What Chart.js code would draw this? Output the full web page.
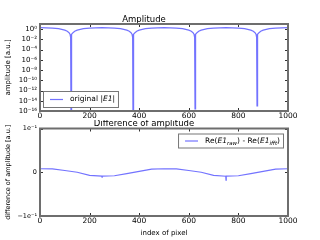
<!DOCTYPE html>
<html lang="en">
<head>
<meta charset="UTF-8">
<title>Amplitude</title>
<script src="https://cdn.jsdelivr.net/npm/chart.js"></script>
<style>
  body { margin: 0; background: #fff; }
  #wrap { position: relative; width: 320px; height: 240px; overflow: hidden; }
  canvas { position: absolute; left: 0; }
</style>
</head>
<body>
<div id="wrap">
  <canvas id="diffChart" width="320" height="120" style="top:120px"></canvas>
  <canvas id="ampChart" width="320" height="124" style="top:0; z-index:2"></canvas>
</div>
<script>
// --- data ---
const pixelIdx = [
  0, 50, 75, 100, 110, 117, 121, 123, 124, 125, 126, 127, 129, 133, 140, 150, 175, 200, 250,
  300, 325, 350, 360, 367, 371, 373, 374, 375, 376, 377, 379, 383, 390, 400, 425, 450, 500,
  550, 575, 600, 610, 617, 621, 623, 624, 625, 626, 627, 629, 633, 640, 650, 675, 700, 750,
  800, 825, 850, 860, 867, 871, 873, 874, 875, 876, 877, 879, 883, 890, 900, 925, 950, 1000
];
const amplitude = [
  2.0, 1.6, 1.2, 0.62, 0.37, 0.2, 0.1, 0.05, 0.025, 1e-18, 0.025, 0.05, 0.1, 0.2, 0.37, 0.62, 1.2, 1.6, 2.0,
  1.6, 1.2, 0.62, 0.37, 0.2, 0.1, 0.05, 0.025, 1e-18, 0.025, 0.05, 0.1, 0.2, 0.37, 0.62, 1.2, 1.6, 2.0,
  1.6, 1.2, 0.62, 0.37, 0.2, 0.1, 0.05, 0.025, 2.5e-16, 0.025, 0.05, 0.1, 0.2, 0.37, 0.62, 1.2, 1.6, 2.0,
  1.6, 1.2, 0.62, 0.37, 0.2, 0.1, 0.05, 0.025, 1e-15, 0.025, 0.05, 0.1, 0.2, 0.37, 0.62, 1.2, 1.6, 2.0
];
const diffIdx = [0, 50, 100, 150, 200, 249, 250, 251, 300, 350, 400, 450, 500,
                 550, 600, 650, 700, 749, 750, 751, 800, 850, 900, 950, 1000];
const difference = [0.008, 0.0075, 0.004, 0.0, -0.007, -0.009, -0.011, -0.009, -0.008, -0.003, 0.002, 0.007, 0.008,
                    0.0075, 0.004, 0.0, -0.007, -0.009, -0.018, -0.009, -0.008, -0.003, 0.002, 0.007, 0.008];

const xTicks = [0, 200, 400, 600, 800, 1000];
const ampTicks = [1e-16, 1e-14, 1e-12, 1e-10, 1e-8, 1e-6, 1e-4, 1e-2, 1];
const ampTickLabels = ['10⁻¹⁶', '10⁻¹⁴', '10⁻¹²', '10⁻¹⁰', '10⁻⁸', '10⁻⁶', '10⁻⁴', '10⁻²', '10⁰'];
const diffTicks = [-0.1, 0, 0.1];
const diffTickLabels = ['−1e⁻¹', '0', '1e⁻¹'];

const FONT = "'DejaVu Sans', sans-serif";
const LINE = '#7373ff';

// frame + inward ticks like matplotlib classic
const frame = {
  id: 'frame',
  afterDatasetsDraw(chart) {
    const { ctx, chartArea: a, scales: { x, y } } = chart;
    ctx.save();
    ctx.strokeStyle = '#333';
    ctx.lineWidth = 1;
    ctx.beginPath();
    x.ticks.forEach(t => {
      const px = Math.round(x.getPixelForValue(t.value)) + 0.5;
      ctx.moveTo(px, a.bottom); ctx.lineTo(px, a.bottom - 3);
      ctx.moveTo(px, a.top); ctx.lineTo(px, a.top + 3);
    });
    y.ticks.forEach(t => {
      const py = Math.round(y.getPixelForValue(t.value)) + 0.5;
      ctx.moveTo(a.left, py); ctx.lineTo(a.left + 3, py);
      ctx.moveTo(a.right, py); ctx.lineTo(a.right - 3, py);
    });
    ctx.stroke();
    ctx.strokeStyle = '#6e6e6e';
    ctx.lineWidth = 2;
    ctx.strokeRect(a.left, a.top, a.right - a.left, a.bottom - a.top);
    ctx.restore();
  }
};

// text in pieces, for italic symbols and subscripts
function runFont(r) {
  return (r.italic ? 'italic ' : '') + (r.sub ? 5.5 : 7.5) + 'px ' + FONT;
}
function runsWidth(ctx, runs) {
  let w = 0;
  runs.forEach(r => { ctx.font = runFont(r); w += ctx.measureText(r.t).width; });
  return w;
}
function drawRuns(ctx, x, y, runs) {
  ctx.textBaseline = 'middle';
  ctx.fillStyle = '#000';
  runs.forEach(r => {
    ctx.font = runFont(r);
    ctx.fillText(r.t, x, r.sub ? y + 2.5 : y);
    x += ctx.measureText(r.t).width;
  });
}
function drawLegend(ctx, left, top, h, runs) {
  const w = 30 + runsWidth(ctx, runs);
  ctx.save();
  ctx.fillStyle = '#fff';
  ctx.fillRect(left, top, w, h);
  ctx.strokeStyle = '#777';
  ctx.lineWidth = 1;
  ctx.strokeRect(left + 0.5, top + 0.5, w, h);
  ctx.strokeStyle = LINE;
  ctx.lineWidth = 1.2;
  ctx.beginPath();
  ctx.moveTo(left + 7, top + h / 2 + 0.5);
  ctx.lineTo(left + 20, top + h / 2 + 0.5);
  ctx.stroke();
  drawRuns(ctx, left + 27, top + h / 2 + 0.5, runs);
  ctx.restore();
}

const ampLegend = {
  id: 'ampLegend',
  afterDraw(chart) {
    const a = chart.chartArea;
    drawLegend(chart.ctx, a.left + 3, a.bottom - 20, 16, [
      { t: 'original |' }, { t: 'E1', italic: true }, { t: '|' }
    ]);
  }
};
const diffLegend = {
  id: 'diffLegend',
  afterDraw(chart) {
    const a = chart.chartArea, ctx = chart.ctx;
    const runs = [
      { t: 'Re(' }, { t: 'E1', italic: true }, { t: 'raw', italic: true, sub: true }, { t: ') - Re(' },
      { t: 'E1', italic: true }, { t: 'ifft', italic: true, sub: true }, { t: ')' }
    ];
    const w = 30 + runsWidth(ctx, runs);
    drawLegend(ctx, a.right - 5 - w, a.top + 5, 14, runs);
  }
};

function xScale(extra) {
  return Object.assign({
    type: 'linear', min: 0, max: 1000,
    afterBuildTicks: s => { s.ticks = xTicks.map(v => ({ value: v })); },
    grid: { display: false, drawTicks: false },
    border: { display: false },
    ticks: { autoSkip: false, maxRotation: 0, padding: 1, color: '#000',
             font: { family: FONT, size: 7.5, lineHeight: 1.1 }, callback: v => String(v) }
  }, extra);
}

new Chart(document.getElementById('ampChart'), {
  type: 'line',
  data: {
    datasets: [{
      label: 'original |E1|',
      data: pixelIdx.map((x, i) => ({ x: x, y: amplitude[i] })),
      borderColor: LINE, borderWidth: 1.2, pointRadius: 0, fill: false, tension: 0
    }]
  },
  options: {
    responsive: false, animation: false, devicePixelRatio: 1,
    layout: { padding: { left: 0, right: 32, top: 0, bottom: 0 } },
    plugins: {
      legend: { display: false }, tooltip: { enabled: false },
      title: { display: true, text: 'Amplitude', color: '#000', font: { family: FONT, size: 8.5, weight: 'normal', lineHeight: 1 }, padding: { top: 15.5, bottom: 0 } }
    },
    scales: {
      x: xScale({ afterFit: s => { s.height = 13; } }),
      y: {
        type: 'logarithmic', min: 1e-16, max: 10,
        afterBuildTicks: s => { s.ticks = ampTicks.map(v => ({ value: v })); },
        afterFit: s => { s.width = 40; },
        grid: { display: false, drawTicks: false },
        border: { display: false },
        ticks: { autoSkip: false, padding: 3, color: '#000', font: { family: FONT, size: 7 },
                 callback: v => ampTickLabels[ampTicks.indexOf(v)] },
        title: { display: true, text: 'amplitude [a.u.]', color: '#000', font: { family: FONT, size: 7 }, padding: { top: 4, bottom: 0 } }
      }
    }
  },
  plugins: [frame, ampLegend]
});

new Chart(document.getElementById('diffChart'), {
  type: 'line',
  data: {
    datasets: [{
      label: 'Re(E1raw) - Re(E1ifft)',
      data: diffIdx.map((x, i) => ({ x: x, y: difference[i] })),
      borderColor: LINE, borderWidth: 1.2, pointRadius: 0, fill: false, tension: 0
    }]
  },
  options: {
    responsive: false, animation: false, devicePixelRatio: 1,
    layout: { padding: { left: 0, right: 32, top: 0, bottom: 0 } },
    plugins: {
      legend: { display: false }, tooltip: { enabled: false },
      title: { display: true, text: 'Difference of amplitude', color: '#000', font: { family: FONT, size: 8.5, weight: 'normal', lineHeight: 1 }, padding: { top: 0, bottom: 0 } }
    },
    scales: {
      x: xScale({
        afterFit: s => { s.height = 24; },
        title: { display: true, text: 'index of pixel', color: '#000', font: { family: FONT, size: 7 }, padding: { top: 0, bottom: 3 } }
      }),
      y: {
        type: 'linear', min: -0.1, max: 0.1,
        afterBuildTicks: s => { s.ticks = diffTicks.map(v => ({ value: v })); },
        afterFit: s => { s.width = 40; },
        grid: { display: false, drawTicks: false },
        border: { display: false },
        ticks: { autoSkip: false, padding: 3, color: '#000', font: { family: FONT, size: 6.5 },
                 callback: v => diffTickLabels[diffTicks.indexOf(v)] },
        title: { display: true, text: 'difference of amplitude [a.u.]', color: '#000', font: { family: FONT, size: 6.5 }, padding: { top: 4, bottom: 0 } }
      }
    }
  },
  plugins: [frame, diffLegend]
});
</script>
</body>
</html>
